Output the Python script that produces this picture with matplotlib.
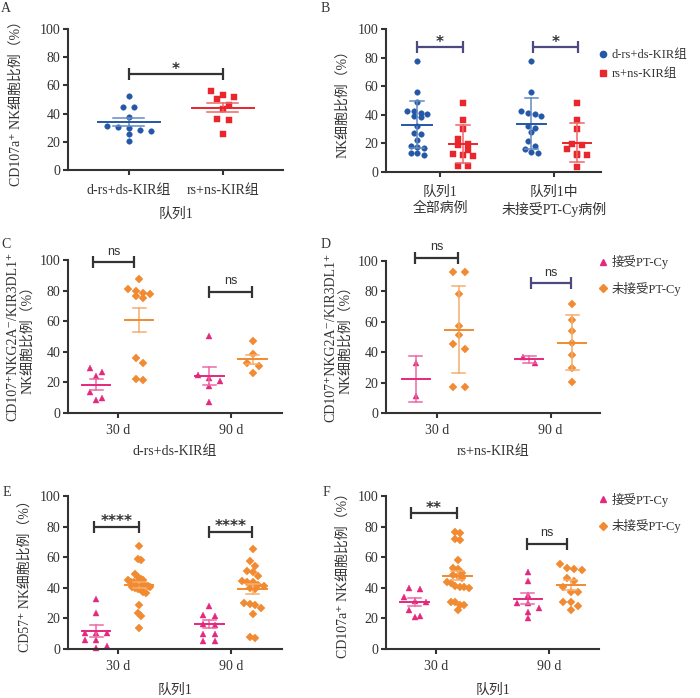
import numpy as np
import matplotlib
matplotlib.use('Agg')
import matplotlib.pyplot as plt
from matplotlib.lines import Line2D
from matplotlib.colors import to_rgb

plt.rcParams['font.family'] = ['Liberation Serif', 'Noto Sans CJK SC', 'DejaVu Sans']

W, H = 700, 698

# ---- values (%) ----
# A: CD107a+ NK, cohort 1
a_ds = [52.5, 44.7, 44.7, 37.4, 31.0, 30.3, 30.0, 28.4, 27.7, 25.3, 20.6]
a_ns = [55.8, 53.2, 51.8, 50.0, 46.0, 43.0, 35.9, 35.2, 25.8]
a_mean = [33.8, 44.2]
a_err = [2.8, 3.3]

# B: NK, cohort 1 all / cohort 1 without PT-Cy (mean +- SD)
b_ds_all = [77.3, 55.7, 49.2, 42.9, 42.9, 41.0, 40.3, 39.0, 38.2, 32.0, 27.5,
            26.5, 22.2, 18.0, 17.5, 16.6, 13.3, 13.3, 11.7]
b_ns_all = [48.5, 36.1, 30.2, 23.0, 19.7, 18.7, 15.2, 12.4, 11.9, 11.0, 4.0, 4.0]
b_ds_nopt = [77.3, 55.7, 42.9, 41.0, 40.3, 39.1, 32.5, 31.1, 27.8, 22.0, 18.5,
             16.2, 14.3, 13.1]
b_ns_nopt = [48.5, 36.1, 30.2, 19.9, 18.7, 16.0, 12.4, 12.2, 12.0, 3.5]
b_ds_mean = [33.0, 33.7]
b_ds_err = [16.4, 17.8]
b_ns_mean = [19.7, 20.6]
b_ns_err = [13.1, 13.7]

# C: CD107+NKG2A-/KIR3DL1+ NK, d-rs+ds-KIR group
c_pt_30 = [29.5, 26.9, 24.3, 13.6, 9.6, 8.8]
c_nopt_30 = [87.7, 81.2, 79.9, 78.6, 77.9, 76.6, 75.1, 36.1, 33.0, 22.3, 21.4]
c_pt_90 = [50.1, 24.7, 23.0, 21.2, 17.9, 7.0]
c_nopt_90 = [47.3, 38.7, 33.0, 30.6, 26.0]
c_pt_mean, c_pt_err = [18.6, 24.1], [3.8, 6.0]
c_nopt_mean, c_nopt_err = [60.8, 35.2], [7.8, 3.0]

# D: same, rs+ns-KIR group (mean +- SD)
d_pt_30 = [32.7, 11.4]
d_nopt_30 = [92.8, 92.8, 78.1, 57.2, 51.3, 45.6, 41.9, 17.1, 16.9]
d_pt_90 = [36.6, 32.7]
d_nopt_90 = [71.9, 61.2, 53.9, 46.3, 37.9, 29.8, 20.2]
d_pt_mean, d_pt_err = [22.4, 35.3], [14.9, 2.5]
d_nopt_mean, d_nopt_err = [54.8, 46.3], [28.8, 17.9]

# E: CD57+ NK, cohort 1
e_pt_30 = [32.9, 23.3, 10.5, 10.5, 10.2, 6.0, 6.0, 2.2, 0.5]
e_nopt_30 = [67.2, 59.0, 58.3, 49.1, 47.0, 45.7, 45.0, 44.8, 44.0, 43.5, 43.0,
             42.6, 42.2, 41.7, 41.3, 40.8, 40.2, 39.6, 39.0, 38.3, 37.4, 36.5,
             28.7, 23.7, 21.8, 13.7]
e_pt_90 = [28.0, 22.0, 21.5, 16.5, 16.0, 10.0, 10.0, 5.5, 5.5]
e_nopt_90 = [65.3, 57.2, 54.5, 51.3, 50.5, 48.0, 44.5, 44.0, 43.5, 42.0, 41.5,
             40.0, 39.0, 30.0, 29.5, 29.0, 27.0, 23.0, 8.0, 7.0]
e_pt_mean, e_pt_err = [11.5, 16.3], [3.9, 2.6]
e_nopt_mean, e_nopt_err = [41.8, 39.0], [2.1, 3.2]

# F: CD107a+ NK, cohort 1
f_pt_30 = [40.0, 39.5, 34.3, 31.4, 30.6, 25.5, 21.6, 21.2]
f_nopt_30 = [76.6, 75.9, 72.0, 71.4, 58.1, 53.0, 52.0, 50.0, 48.4, 47.9, 46.2,
             44.0, 43.4, 41.0, 40.8, 40.5, 40.0, 31.0, 30.6, 28.9, 28.5, 25.6]
f_pt_90 = [50.5, 44.5, 35.4, 29.9, 29.9, 27.1, 24.5, 20.2]
f_nopt_90 = [55.5, 52.9, 52.3, 51.8, 46.6, 44.7, 40.8, 37.5, 37.5, 31.0, 31.0,
             28.4, 25.6]
f_pt_mean, f_pt_err = [30.8, 33.0], [2.4, 3.5]
f_nopt_mean, f_nopt_err = [48.0, 41.9], [2.9, 3.1]

BLUE = '#2457a7'
RED = '#e8262c'
PINK = '#e4287e'
ORANGE = '#f18a30'
DARK = '#333333'
PURPLE = '#4c4a7e'
TXT = '#333333'


def lighten(c, f):
    r, g, b = to_rgb(c)
    return (r + (1 - r) * f, g + (1 - g) * f, b + (1 - b) * f)


fig = plt.figure(figsize=(W / 100, H / 100), dpi=100)


def make_axes(x0, x1, ytop, ybot, xlim, ticklabels, xpad):
    ax = fig.add_axes([x0 / W, 1 - ybot / H, (x1 - x0) / W, (ybot - ytop) / H])
    ax.set_xlim(*xlim)
    ax.set_ylim(0, 100)
    for s in ['top', 'right']:
        ax.spines[s].set_visible(False)
    for s in ['left', 'bottom']:
        ax.spines[s].set_linewidth(1.5)
        ax.spines[s].set_color(DARK)
    ax.set_yticks(range(0, 101, 20))
    ax.set_xticks([0, 1])
    ax.set_xticklabels(ticklabels)
    ax.tick_params(direction='out', length=3.6, width=1.5, color=DARK,
                   labelsize=10, labelcolor=TXT)
    ax.tick_params(axis='x', pad=xpad)
    ax.tick_params(axis='y', pad=2)
    ppx = (x1 - x0) / (xlim[1] - xlim[0])
    ppy = (ybot - ytop) / 100.0
    return ax, ppx, ppy


def spread(vals, ppx, ppy, row_px, smax, wmax):
    # GraphPad-like scatter: bin into rows, spread each row symmetrically
    vals = np.asarray(vals, float)
    order = np.argsort(-vals, kind='stable')
    rows, cur = [], []
    for i in order:
        if cur and (vals[cur[0]] - vals[i]) * ppy >= row_px:
            rows.append(cur)
            cur = []
        cur.append(i)
    rows.append(cur)
    nmax = max(len(r) for r in rows)
    step = smax if nmax < 2 else min(smax, wmax / (nmax - 1))
    off = np.zeros(len(vals))
    for r in rows:
        n = len(r)
        for k, i in enumerate(r):
            off[i] = (k - (n - 1) / 2) * step / ppx
    return off


def group(ax, xc, vals, mean, err, color, marker, ms, ppx, ppy,
          mean_hw, cap_hw, row_px=6.5, smax=12, wmax=22):
    off = spread(vals, ppx, ppy, row_px, smax, wmax)
    ax.plot(xc + off, vals, ls='none', marker=marker, ms=ms, color=color,
            mec=color, mew=0.3, clip_on=False, zorder=2)
    ec = lighten(color, 0.3)
    ax.plot([xc, xc], [mean - err, mean + err], color=ec, lw=1.1, zorder=3,
            clip_on=False)
    for yy in (mean - err, mean + err):
        ax.plot([xc - cap_hw, xc + cap_hw], [yy, yy], color=ec, lw=1.1,
                zorder=3, clip_on=False)
    ax.plot([xc - mean_hw, xc + mean_hw], [mean, mean], color=color, lw=1.4,
            zorder=4, clip_on=False)


def sig(ax, x1, x2, y, label, color, ppy):
    c = 6.0 / ppy
    kw = dict(color=color, lw=1.6, clip_on=False, solid_capstyle='butt', zorder=5)
    ax.plot([x1, x2], [y, y], **kw)
    ax.plot([x1, x1], [y - c, y + c], **kw)
    ax.plot([x2, x2], [y - c, y + c], **kw)
    if '*' in label:
        ax.annotate(label, xy=((x1 + x2) / 2, y), xytext=(0, 0.3),
                    textcoords='offset points', ha='center', va='baseline',
                    fontsize=11, fontweight='bold', family='DejaVu Sans',
                    color=DARK, annotation_clip=False)
    else:
        ax.annotate(label, xy=((x1 + x2) / 2, y), xytext=(0, 5.6),
                    textcoords='offset points', ha='center', va='baseline',
                    fontsize=9, family='Liberation Sans', color=DARK,
                    annotation_clip=False)


def ylab(ax, lines, xs):
    for text, x in zip(lines, xs):
        ax.text(x, 0.5, text, rotation=90, transform=ax.transAxes,
                ha='center', va='center', fontsize=10, color=TXT)


def legend(ax, items, x, y, spacing):
    handles = [Line2D([], [], ls='none', marker=m, ms=ms, color=c, label=t)
               for m, ms, c, t in items]
    ax.legend(handles=handles, loc='center left', bbox_to_anchor=(x, y),
              frameon=False, fontsize=9, handlelength=0.8, handletextpad=0.3,
              borderpad=0, borderaxespad=0, labelspacing=spacing,
              labelcolor=TXT)


def panel_letter(x, y, s):
    fig.text(x / W, 1 - y / H, s, ha='center', va='center', fontsize=10,
             color=TXT)


# ---- A ----
ax, px, py = make_axes(68, 283, 29, 170, (-0.649, 1.64),
                       ['d-rs+ds-KIR组', 'rs+ns-KIR组'], 6.5)
group(ax, 0, a_ds, a_mean[0], a_err[0], BLUE, 'o', 4.0, px, py, 0.33, 0.165,
      row_px=6, smax=11.5, wmax=44)
group(ax, 1, a_ns, a_mean[1], a_err[1], RED, 's', 3.8, px, py, 0.33, 0.165,
      row_px=6, smax=11.5, wmax=44)
sig(ax, 0, 1, 68.0, '*', DARK, py)
ylab(ax, ['CD107a⁺ NK细胞比例（%）'], [-0.242])
ax.set_xlabel('队列1', fontsize=10, color=TXT, labelpad=8)

# ---- B ----
ax, px, py = make_axes(386, 601, 29, 172, (-0.474, 1.41),
                       ['队列1\n全部病例', '队列1中\n未接受PT-Cy病例'], 6.5)
for k, (dv, nv) in enumerate([(b_ds_all, b_ns_all), (b_ds_nopt, b_ns_nopt)]):
    group(ax, k - 0.2, dv, b_ds_mean[k], b_ds_err[k], BLUE, 'o', 4.0, px, py,
          0.13, 0.06, row_px=5.5, smax=12, wmax=20)
    group(ax, k + 0.2, nv, b_ns_mean[k], b_ns_err[k], RED, 's', 3.8, px, py,
          0.12, 0.06, row_px=5.5, smax=12, wmax=20)
sig(ax, -0.2, 0.2, 87.1, '*', PURPLE, py)
sig(ax, 0.81, 1.21, 87.1, '*', PURPLE, py)
ylab(ax, ['NK细胞比例（%）'], [-0.2])
legend(ax, [('o', 4.5, BLUE, 'd-rs+ds-KIR组'), ('s', 4.2, RED, 'rs+ns-KIR组')],
       0.985, 0.75, 0.6)

pt_items = [('^', 4.5, PINK, '接受PT-Cy'), ('D', 3.6, ORANGE, '未接受PT-Cy')]
xl_pad = {'d-rs+ds-KIR组': 5.5, 'rs+ns-KIR组': 5.5, '队列1': 7.5}


def timed_panel(rect, xlim, pts, nopts, ptm, pte, nm, ne, bars, lab, xl, leg):
    ax, px, py = make_axes(*rect, xlim, ['30 d', '90 d'], 4.5)
    for k in range(2):
        group(ax, k - 0.19, pts[k], ptm[k], pte[k], PINK, '^', 4.5, px, py,
              0.125, 0.057)
        group(ax, k + 0.19, nopts[k], nm[k], ne[k], ORANGE, 'D', 3.6, px, py,
              0.125, 0.057)
    for b in bars:
        sig(ax, *b, py)
    if len(lab) == 2:
        ylab(ax, lab, [-0.256, -0.19])
    else:
        ylab(ax, lab, [-0.2])
    ax.set_xlabel(xl, fontsize=10, color=TXT, labelpad=xl_pad[xl])
    if leg is not None:
        legend(ax, pt_items, leg[0], leg[1], 1.0)
    return ax


lab_cd107 = ['CD107⁺NKG2A⁻/KIR3DL1⁺', 'NK细胞比例（%）']

timed_panel((68, 282, 260, 413), (-0.439, 1.45), [c_pt_30, c_pt_90],
            [c_nopt_30, c_nopt_90], c_pt_mean, c_pt_err, c_nopt_mean, c_nopt_err,
            [(-0.22, 0.147, 98.5, 'ns', DARK), (0.806, 1.183, 79.0, 'ns', DARK)],
            lab_cd107, 'd-rs+ds-KIR组', None)
timed_panel((386, 600, 261, 413), (-0.452, 1.435), [d_pt_30, d_pt_90],
            [d_nopt_30, d_nopt_90], d_pt_mean, d_pt_err, d_nopt_mean, d_nopt_err,
            [(-0.194, 0.182, 102.2, 'ns', DARK), (0.829, 1.182, 85.3, 'ns', PURPLE)],
            lab_cd107, 'rs+ns-KIR组', (0.99, 0.905))
timed_panel((68, 282, 496, 649), (-0.439, 1.45), [e_pt_30, e_pt_90],
            [e_nopt_30, e_nopt_90], e_pt_mean, e_pt_err, e_nopt_mean, e_nopt_err,
            [(-0.208, 0.19, 80.0, '****', DARK), (0.81, 1.185, 76.7, '****', DARK)],
            ['CD57⁺ NK细胞比例（%）'], '队列1', None)
timed_panel((386, 599, 496, 649), (-0.442, 1.44), [f_pt_30, f_pt_90],
            [f_nopt_30, f_nopt_90], f_pt_mean, f_pt_err, f_nopt_mean, f_nopt_err,
            [(-0.221, 0.183, 88.9, '**', DARK), (0.808, 1.156, 68.8, 'ns', DARK)],
            ['CD107a⁺ NK细胞比例（%）'], '队列1', (0.995, 0.89))

for x, y, s in [(6, 8.5, 'A'), (325.5, 8.5, 'B'), (6.5, 244, 'C'),
                (326, 244, 'D'), (6.5, 493, 'E'), (326, 492, 'F')]:
    panel_letter(x, y, s)

fig.savefig('out.png', dpi=100)
